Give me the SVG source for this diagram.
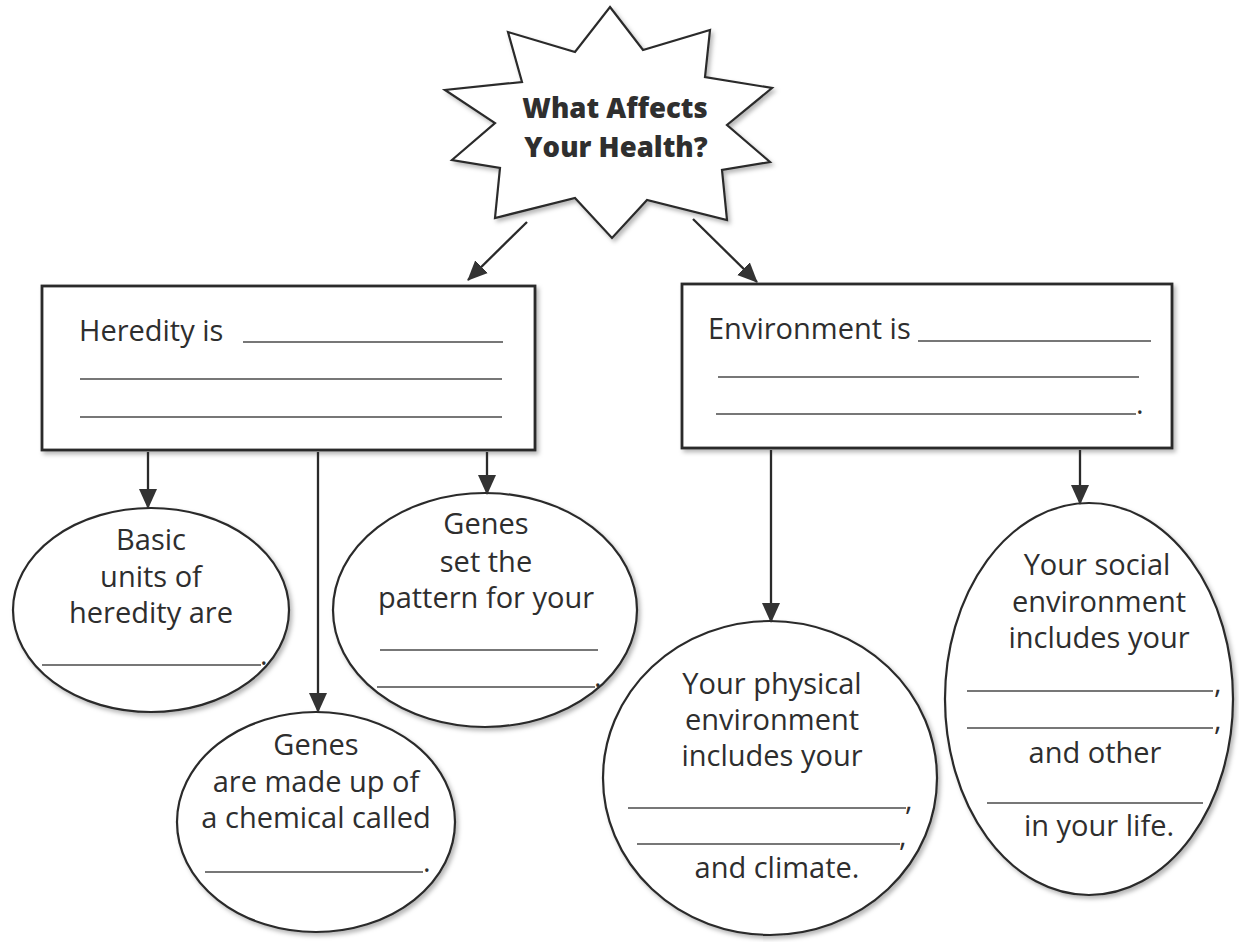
<svg xmlns="http://www.w3.org/2000/svg" width="1239" height="942" viewBox="0 0 1239 942">
<defs>
<style>
.shape{fill:#fff;stroke:#2a2a2a;stroke-width:2.2;filter:url(#sh)}
.box{fill:#fff;stroke:#2a2a2a;stroke-width:2.8;filter:url(#sh)}
.t{font-family:"Open Sans","Noto Sans","Liberation Sans",sans-serif;font-size:29px;fill:#2e2e2e}
.c{text-anchor:middle}
.title{font-family:"Open Sans","Liberation Sans",sans-serif;font-weight:800;font-size:27.5px;fill:#2f2f2f;text-anchor:middle}
.blank{stroke:#4a4a4a;stroke-width:1.7}
.conn line{stroke:#2a2a2a;stroke-width:2.3;marker-end:url(#ah)}
</style>
<filter id="sh" x="-10%" y="-10%" width="125%" height="125%">
<feDropShadow dx="2.5" dy="3" stdDeviation="2" flood-color="#000" flood-opacity="0.28"/>
</filter>
<marker id="ah" markerUnits="userSpaceOnUse" markerWidth="20" markerHeight="20" viewBox="0 0 20 20" refX="19" refY="10" orient="auto">
<path d="M0,1 L20,10 L0,19 z" fill="#333"/>
</marker>
</defs>
<rect width="1239" height="942" fill="#fff"/>

<g id="star">
<polygon class="shape" points="610,7 643,50 710,30 705,77 772,88 727,125 770,162 722,170 727,220 647,200 612,238 575,198 495,218 500,168 452,160 495,123 445,90 522,82 508,32 575,52"/>
<text class="title" x="615" y="118">What Affects</text>
<text class="title" x="616" y="157">Your Health?</text>
</g>

<g id="heredity-box">
<rect class="box" x="42" y="286" width="493" height="164"/>
<text class="t" x="79" y="341">Heredity is</text>
<line class="blank" x1="243" y1="342" x2="503" y2="342"/>
<line class="blank" x1="80" y1="379" x2="502" y2="379"/>
<line class="blank" x1="80" y1="417" x2="502" y2="417"/>
</g>

<g id="environment-box">
<rect class="box" x="682" y="284" width="490" height="164"/>
<text class="t" x="708" y="339">Environment is</text>
<line class="blank" x1="918" y1="341" x2="1151" y2="341"/>
<line class="blank" x1="718" y1="377" x2="1139" y2="377"/>
<line class="blank" x1="716" y1="414" x2="1136" y2="414"/>
<text class="t" x="1136" y="414">.</text>
</g>

<g id="basic-units">
<ellipse class="shape" cx="151" cy="610" rx="138" ry="102"/>
<text class="t c" x="151" y="550">Basic</text>
<text class="t c" x="151" y="587">units of</text>
<text class="t c" x="151" y="623">heredity are</text>
<line class="blank" x1="42" y1="665" x2="261" y2="665"/>
<text class="t" x="260" y="665">.</text>
</g>

<g id="genes-chemical">
<ellipse class="shape" cx="316" cy="822" rx="139" ry="110"/>
<text class="t c" x="316" y="755">Genes</text>
<text class="t c" x="316" y="792">are made up of</text>
<text class="t c" x="316" y="828">a chemical called</text>
<line class="blank" x1="205" y1="872" x2="423" y2="872"/>
<text class="t" x="423" y="872">.</text>
</g>

<g id="genes-pattern">
<ellipse class="shape" cx="485" cy="610" rx="152" ry="117"/>
<text class="t c" x="486" y="534">Genes</text>
<text class="t c" x="486" y="572">set the</text>
<text class="t c" x="486" y="608">pattern for your</text>
<line class="blank" x1="380" y1="650" x2="598" y2="650"/>
<line class="blank" x1="377" y1="687" x2="595" y2="687"/>
<text class="t" x="594" y="687">.</text>
</g>

<g id="physical-environment">
<ellipse class="shape" cx="770" cy="778" rx="167" ry="157"/>
<text class="t c" x="772" y="694">Your physical</text>
<text class="t c" x="772" y="730">environment</text>
<text class="t c" x="772" y="766">includes your</text>
<line class="blank" x1="628" y1="808" x2="906" y2="808"/>
<text class="t" x="905" y="810">,</text>
<line class="blank" x1="637" y1="844" x2="900" y2="844"/>
<text class="t" x="899" y="846">,</text>
<text class="t c" x="777" y="878">and climate.</text>
</g>

<g id="social-environment">
<ellipse class="shape" cx="1089" cy="699" rx="144" ry="196"/>
<text class="t c" x="1097" y="575">Your social</text>
<text class="t c" x="1099" y="612">environment</text>
<text class="t c" x="1099" y="648">includes your</text>
<line class="blank" x1="967" y1="691" x2="1213" y2="691"/>
<text class="t" x="1214" y="693">,</text>
<line class="blank" x1="967" y1="728" x2="1213" y2="728"/>
<text class="t" x="1214" y="730">,</text>
<text class="t c" x="1095" y="763">and other</text>
<line class="blank" x1="987" y1="803" x2="1203" y2="803"/>
<text class="t c" x="1099" y="836">in your life.</text>
</g>

<g id="connectors" class="conn">
<line x1="527" y1="222" x2="468" y2="280"/>
<line x1="693" y1="219" x2="757" y2="282"/>
<line x1="148" y1="452" x2="148" y2="508"/>
<line x1="318" y1="452" x2="318" y2="712"/>
<line x1="487" y1="452" x2="487" y2="494"/>
<line x1="771" y1="450" x2="771" y2="622"/>
<line x1="1080" y1="450" x2="1080" y2="504"/>
</g>
</svg>
